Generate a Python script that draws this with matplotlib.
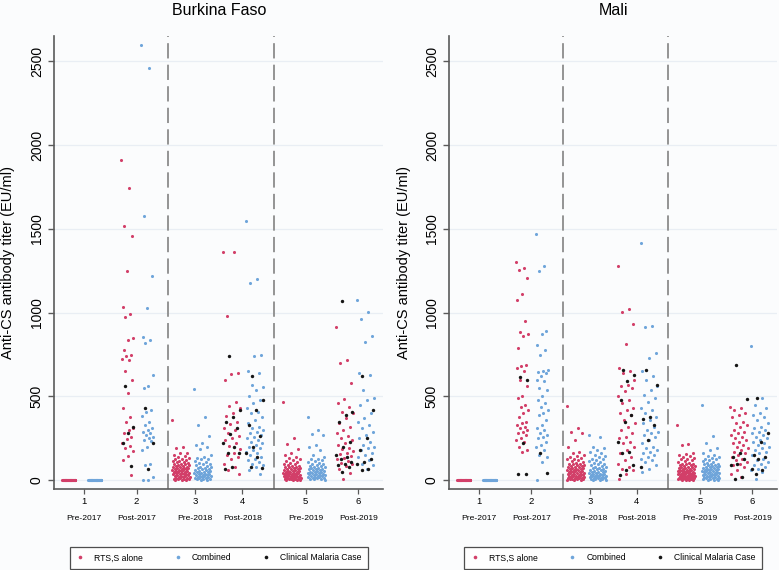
import numpy as np
import matplotlib
matplotlib.use("Agg")
import matplotlib.pyplot as plt
from matplotlib.lines import Line2D

plt.rcParams['font.family'] = ['Liberation Sans', 'DejaVu Sans']
plt.rcParams['lines.scale_dashes'] = False

# --- data (EU/ml) ---
time_nums = ['1', '2', '3', '4', '5', '6']
time_names = ['Pre-2017', 'Post-2017', 'Pre-2018', 'Post-2018', 'Pre-2019', 'Post-2019']

# Burkina Faso
bf_t1_rts = [0] * 45
bf_t1_rts_case = []
bf_t1_comb = [0] * 45
bf_t1_comb_case = []
bf_t2_rts = [1910, 1745, 1520, 1460, 1250, 1035, 990, 975, 850, 840, 780, 750, 740, 725, 715, 650, 600,
             520, 430, 375, 345, 310, 300, 285, 260, 245, 225, 205, 195, 175, 145, 120, 30]
bf_t2_rts_case = [565, 320, 280, 220, 85]
bf_t2_comb = [2600, 2460, 1575, 1220, 1030, 855, 840, 820, 630, 560, 550, 420, 405, 385, 350, 330, 310,
              300, 290, 280, 270, 260, 250, 240, 235, 200, 180, 100, 90, 20, 0, 0]
bf_t2_comb_case = [430, 220, 70]
bf_t3_rts = [360, 200, 190, 165, 160, 150, 145, 140, 135, 130, 128, 120, 118, 115, 110, 108, 105, 100, 98,
             95, 92, 90, 88, 85, 82, 80, 78, 76, 74, 72, 70, 68, 66, 64, 62, 60, 58, 56, 55, 52, 50, 48, 46,
             45, 42, 40, 38, 36, 35, 32, 30, 28, 26, 25, 22, 20, 18, 16, 15, 12, 10, 8, 6, 5, 4, 2, 0]
bf_t3_rts_case = []
bf_t3_comb = [545, 375, 330, 265, 220, 210, 200, 185, 150, 140, 135, 130, 125, 118, 112, 105, 100, 96, 90,
              86, 82, 78, 75, 72, 68, 65, 62, 60, 57, 55, 52, 50, 48, 45, 43, 40, 38, 36, 34, 32, 30, 28,
              26, 24, 22, 20, 18, 16, 14, 12, 10, 8, 6, 4, 2]
bf_t3_comb_case = []
bf_t4_rts = [1365, 1360, 980, 640, 635, 600, 470, 445, 430, 400, 385, 350, 335, 310, 300, 285, 265, 250,
             240, 225, 205, 185, 165, 150, 140, 125, 100, 80, 60, 40]
bf_t4_rts_case = [740, 420, 380, 345, 310, 275, 220, 200, 165, 160, 80, 70]
bf_t4_comb = [1550, 1200, 1180, 750, 740, 650, 640, 570, 555, 540, 500, 480, 460, 430, 410, 400, 380, 360,
              340, 320, 310, 300, 290, 280, 270, 260, 250, 240, 230, 220, 210, 200, 190, 180, 170, 160,
              150, 140, 130, 120, 110, 100, 90, 80, 60, 40]
bf_t4_comb_case = [620, 480, 420, 330, 265, 200, 160, 140, 80, 75]
bf_t5_rts = [470, 250, 215, 185, 160, 150, 140, 132, 125, 120, 115, 110, 105, 100, 96, 92, 88, 85, 82, 80,
             78, 75, 72, 70, 68, 65, 62, 60, 58, 56, 54, 52, 50, 48, 46, 45, 44, 42, 40, 38, 36, 35, 34,
             32, 30, 28, 27, 26, 25, 24, 22, 20, 18, 17, 16, 15, 14, 12, 10, 9, 8, 6, 5, 4, 3, 2, 0]
bf_t5_rts_case = []
bf_t5_comb = [380, 300, 275, 270, 210, 200, 180, 150, 140, 130, 125, 120, 115, 110, 105, 100, 96, 92, 88,
              84, 80, 78, 75, 72, 70, 68, 65, 62, 60, 58, 55, 52, 50, 48, 46, 44, 42, 40, 38, 36, 34, 32,
              30, 28, 26, 24, 22, 20, 18, 16, 14, 12, 10, 8, 5, 2]
bf_t5_comb_case = []
bf_t6_rts = [915, 720, 700, 580, 485, 460, 440, 410, 400, 370, 340, 315, 300, 285, 265, 255, 240, 225, 210,
             195, 185, 175, 165, 155, 145, 135, 125, 115, 105, 95, 85, 65, 45, 10]
bf_t6_rts_case = [1070, 410, 390, 350, 230, 200, 150, 140, 130, 110, 100, 90, 80, 50]
bf_t6_comb = [1075, 1005, 960, 860, 825, 640, 630, 540, 490, 480, 450, 400, 370, 350, 330, 310, 290, 270,
              250, 230, 210, 200, 190, 180, 160, 150, 140, 120, 100, 90, 70]
bf_t6_comb_case = [620, 420, 250, 180, 130, 110, 95, 70, 60]

# Mali
ml_t1_rts = [0] * 45
ml_t1_rts_case = []
ml_t1_comb = [0] * 45
ml_t1_comb_case = []
ml_t2_rts = [1300, 1265, 1255, 1205, 1110, 1075, 950, 885, 870, 860, 790, 690, 680, 670, 650, 600, 560, 500,
             490, 450, 440, 420, 400, 380, 350, 340, 330, 320, 310, 300, 290, 280, 270, 250, 240, 230, 200,
             180, 170]
ml_t2_rts_case = [615, 600, 220, 38, 35]
ml_t2_comb = [1470, 1280, 1250, 890, 870, 810, 780, 750, 660, 650, 645, 640, 620, 600, 590, 550, 540, 500,
              480, 460, 440, 420, 400, 390, 360, 330, 310, 300, 280, 270, 260, 250, 230, 210, 200, 180, 150,
              140, 110, 0]
ml_t2_comb_case = [160, 45]
ml_t3_rts = [445, 310, 290, 280, 240, 200, 170, 160, 150, 145, 140, 135, 130, 125, 120, 115, 110, 105, 100,
             98, 95, 92, 90, 88, 85, 82, 80, 78, 75, 72, 70, 68, 66, 64, 62, 60, 58, 56, 54, 52, 50, 48, 46,
             44, 42, 40, 38, 36, 34, 32, 30, 28, 26, 25, 24, 22, 20, 18, 16, 15, 14, 12, 10, 8, 6, 5, 4, 2, 0]
ml_t3_rts_case = []
ml_t3_comb = [270, 260, 200, 190, 180, 170, 160, 150, 145, 140, 130, 125, 120, 115, 110, 105, 100, 95, 90,
              86, 82, 80, 76, 72, 70, 66, 62, 60, 58, 55, 52, 50, 48, 45, 42, 40, 38, 36, 34, 32, 30, 28,
              26, 25, 24, 22, 20, 18, 16, 15, 14, 12, 10, 8, 6, 4, 2, 0]
ml_t3_comb_case = []
ml_t4_rts = [1280, 1025, 1005, 935, 815, 670, 650, 640, 600, 570, 560, 550, 530, 500, 480, 460, 430, 420,
             400, 390, 360, 340, 320, 300, 280, 260, 250, 230, 220, 200, 180, 160, 140, 120, 100, 80, 70,
             60, 40, 5]
ml_t4_rts_case = [660, 630, 590, 480, 390, 350, 230, 170, 160, 90, 60, 30]
ml_t4_comb = [1415, 920, 915, 760, 730, 650, 620, 600, 560, 540, 510, 490, 470, 430, 420, 400, 380, 360,
              340, 320, 300, 290, 280, 270, 260, 240, 220, 200, 190, 180, 170, 160, 150, 140, 130, 120, 110,
              90, 70, 50]
ml_t4_comb_case = [660, 570, 380, 365, 330, 240, 80]
ml_t5_rts = [330, 215, 210, 160, 158, 150, 145, 140, 135, 130, 125, 120, 115, 110, 105, 100, 98, 95, 92, 90,
             88, 85, 82, 80, 78, 75, 72, 70, 68, 66, 64, 62, 60, 58, 56, 55, 54, 52, 50, 48, 46, 45, 44,
             42, 40, 38, 36, 35, 34, 32, 30, 28, 27, 26, 25, 24, 22, 20, 18, 17, 16, 15, 14, 12, 10, 9, 8,
             6, 5, 4, 3, 2, 0]
ml_t5_rts_case = []
ml_t5_comb = [450, 265, 220, 190, 180, 160, 150, 145, 140, 135, 130, 125, 120, 115, 110, 105, 100, 98, 95,
              92, 90, 88, 85, 82, 80, 78, 75, 72, 70, 68, 66, 64, 62, 60, 58, 56, 54, 52, 50, 48, 46, 44,
              42, 40, 38, 36, 34, 32, 30, 28, 26, 24, 22, 20, 18, 16, 14, 12, 10, 8, 6, 4, 2, 0]
ml_t5_comb_case = []
ml_t6_rts = [440, 430, 420, 400, 390, 380, 350, 340, 330, 320, 300, 290, 280, 270, 260, 250, 240, 230, 220,
             210, 200, 190, 180, 170, 160, 150, 140, 130, 120, 110, 100, 90, 80, 60, 40, 20]
ml_t6_rts_case = [690, 485, 160, 140, 130, 100, 90, 20, 10]
ml_t6_comb = [800, 490, 450, 430, 400, 390, 380, 360, 340, 320, 310, 300, 290, 280, 270, 260, 250, 240, 230,
              220, 210, 200, 190, 180, 170, 160, 150, 130, 120, 110, 100, 90, 80, 70, 60, 50, 10]
ml_t6_comb_case = [490, 280, 230, 150, 140, 130, 70, 60, 40]

bf_rts = [bf_t1_rts, bf_t2_rts, bf_t3_rts, bf_t4_rts, bf_t5_rts, bf_t6_rts]
bf_rts_case = [bf_t1_rts_case, bf_t2_rts_case, bf_t3_rts_case, bf_t4_rts_case, bf_t5_rts_case, bf_t6_rts_case]
bf_comb = [bf_t1_comb, bf_t2_comb, bf_t3_comb, bf_t4_comb, bf_t5_comb, bf_t6_comb]
bf_comb_case = [bf_t1_comb_case, bf_t2_comb_case, bf_t3_comb_case, bf_t4_comb_case, bf_t5_comb_case,
                bf_t6_comb_case]
ml_rts = [ml_t1_rts, ml_t2_rts, ml_t3_rts, ml_t4_rts, ml_t5_rts, ml_t6_rts]
ml_rts_case = [ml_t1_rts_case, ml_t2_rts_case, ml_t3_rts_case, ml_t4_rts_case, ml_t5_rts_case, ml_t6_rts_case]
ml_comb = [ml_t1_comb, ml_t2_comb, ml_t3_comb, ml_t4_comb, ml_t5_comb, ml_t6_comb]
ml_comb_case = [ml_t1_comb_case, ml_t2_comb_case, ml_t3_comb_case, ml_t4_comb_case, ml_t5_comb_case,
                ml_t6_comb_case]

# --- layout (x in axis units) ---
tick_pos = [0.575, 1.578, 2.701, 3.602, 4.816, 5.824]
rts_pos = [0.282, 1.402, 2.427, 3.404, 4.554, 5.569]
comb_pos = [0.780, 1.785, 2.849, 3.845, 5.023, 5.971]
spread = [0.25, 0.23, 0.34, 0.34, 0.34, 0.34]
dash_pos = [2.184, 4.209]

c_rts = '#d23f69'
c_comb = '#6fa5da'
c_case = '#151515'
grid_c = '#e9eef4'
spine_c = '#5a5a5a'


def strip_x(center, width, n, phase=0.0):
    # deterministic spread of points across the strip width
    k = (np.arange(n) * 0.6180339887 + phase) % 1.0
    return center + (k - 0.5) * width


def panel(ax, title, rts, rts_case, comb, comb_case):
    ax.set_facecolor('none')
    for i in range(6):
        for vals, cases, pos, col in [(rts[i], rts_case[i], rts_pos[i], c_rts),
                                      (comb[i], comb_case[i], comb_pos[i], c_comb)]:
            ax.scatter(strip_x(pos, spread[i], len(vals)), vals, s=5, color=col, lw=0, zorder=3)
            if cases:
                ax.scatter(strip_x(pos, spread[i], len(cases), 0.31), cases, s=6, color=c_case, lw=0,
                           zorder=4)
    for d in dash_pos:
        ax.axvline(d, color='#8c8c8c', lw=1.3, dashes=(11, 4.5), zorder=2)
    ax.set_xlim(0, 6.303)
    ax.set_ylim(-52, 2651)
    ax.set_yticks([0, 500, 1000, 1500, 2000, 2500])
    ax.set_yticklabels(['0', '500', '1000', '1500', '2000', '2500'], rotation=90, va='center', fontsize=10)
    ax.yaxis.grid(True, color=grid_c, lw=0.9)
    ax.set_axisbelow(True)
    ax.set_xticks(tick_pos)
    ax.set_xticklabels(time_nums, fontsize=6.8)
    for x, name in zip(tick_pos, time_names):
        ax.text(x, -0.066, name, transform=ax.get_xaxis_transform(), ha='center', va='center', fontsize=6.1)
    for s in ['top', 'right']:
        ax.spines[s].set_visible(False)
    for s in ['left', 'bottom']:
        ax.spines[s].set_color(spine_c)
        ax.spines[s].set_linewidth(1.2)
    ax.tick_params(axis='y', length=4.5, width=1.0, color=spine_c, pad=3)
    ax.tick_params(axis='x', length=3.5, width=0.9, color=spine_c, pad=2.5)
    ax.set_ylabel('Anti-CS antibody titer (EU/ml)', fontsize=10.5)
    ax.yaxis.set_label_coords(-0.118, 0.5)
    ax.set_title(title, fontsize=11.5, pad=15)
    handles = [Line2D([], [], marker='o', ls='', ms=2.6, mew=0, color=c) for c in (c_rts, c_comb, c_case)]
    leg = ax.legend(handles, ['RTS,S alone', 'Combined', 'Clinical Malaria Case'], loc='center',
                    bbox_to_anchor=(0.5, -0.152), ncol=3, fontsize=6.2, frameon=True, fancybox=False,
                    handlelength=1.0, handletextpad=1.13, columnspacing=3.5, borderpad=0.75)
    leg.get_frame().set_edgecolor('#222222')
    leg.get_frame().set_linewidth(0.9)


fig = plt.figure(figsize=(7.79, 5.70), dpi=100, facecolor='#fbfcfd')
ax1 = fig.add_axes([0.0697, 0.1421, 0.4222, 0.7947])
ax2 = fig.add_axes([0.5768, 0.1421, 0.4211, 0.7947])
panel(ax1, 'Burkina Faso', bf_rts, bf_rts_case, bf_comb, bf_comb_case)
panel(ax2, 'Mali', ml_rts, ml_rts_case, ml_comb, ml_comb_case)

fig.savefig('out.png', dpi=100, facecolor=fig.get_facecolor())
